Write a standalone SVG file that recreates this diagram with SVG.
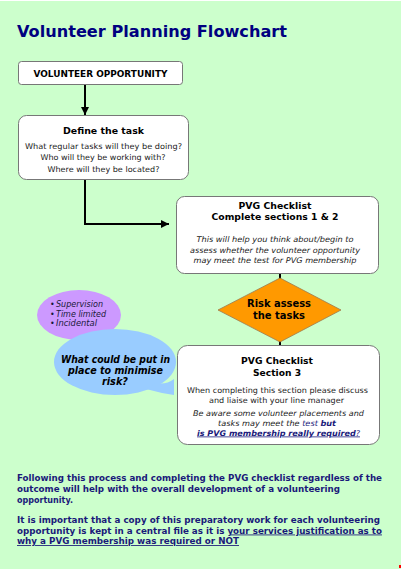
<svg xmlns="http://www.w3.org/2000/svg" width="403" height="570" viewBox="0 0 403 570">
<defs>
<style>
.t{font-family:"DejaVu Sans",Verdana,sans-serif;}
.box{fill:#ffffff;stroke:#777777;stroke-width:1;}
.b{font-weight:bold;}
.i{font-style:italic;}
.c{text-anchor:middle;}
.conn{fill:none;stroke:#000000;stroke-width:2;}
.navy{fill:#1a1a7a;}
</style>
<marker id="ah" viewBox="0 0 10 10" refX="10" refY="5" markerWidth="4" markerHeight="4" orient="auto" markerUnits="strokeWidth">
<path d="M0,0 L10,5 L0,10 Z" fill="#000000"/>
</marker>
</defs>
<rect x="0" y="0" width="403" height="570" fill="#ffffff"/>
<rect x="0" y="1" width="401" height="568" fill="#ccffcc"/>
<rect x="399" y="565" width="2" height="3" fill="#ff0000"/>

<text class="t b" x="17" y="37" font-size="16.5" fill="#000080" textLength="270" lengthAdjust="spacingAndGlyphs">Volunteer Planning Flowchart</text>

<g id="connectors">
<path class="conn" d="M85 84 V115" marker-end="url(#ah)"/>
<path class="conn" d="M85 179 V224 H169" marker-end="url(#ah)"/>
<path class="conn" d="M280 273 V279"/>
<path class="conn" d="M280 341 V346"/>
</g>

<g id="n-opportunity">
<rect class="box" x="18.5" y="61.5" width="164" height="23" rx="3"/>
<text class="t b c" x="100.5" y="76.5" font-size="8.5" fill="#000000" textLength="134" lengthAdjust="spacingAndGlyphs">VOLUNTEER OPPORTUNITY</text>
</g>

<g id="n-define">
<rect class="box" x="18.5" y="115.5" width="170" height="64" rx="8"/>
<text class="t b c" x="103.5" y="134" font-size="9.5" fill="#000000" textLength="81" lengthAdjust="spacingAndGlyphs">Define the task</text>
<text class="t c" x="103.5" y="148.5" font-size="7.8" fill="#222222" textLength="157" lengthAdjust="spacingAndGlyphs">What regular tasks will they be doing?</text>
<text class="t c" x="103" y="160" font-size="7.8" fill="#222222" textLength="125" lengthAdjust="spacingAndGlyphs">Who will they be working with?</text>
<text class="t c" x="103.5" y="171.5" font-size="7.8" fill="#222222" textLength="112" lengthAdjust="spacingAndGlyphs">Where will they be located?</text>
</g>

<g id="n-pvg12">
<rect class="box" x="176.5" y="196.5" width="202" height="77" rx="8"/>
<text class="t b c" x="275" y="208.5" font-size="9.5" fill="#000000" textLength="73" lengthAdjust="spacingAndGlyphs">PVG Checklist</text>
<text class="t b c" x="275" y="220" font-size="9.5" fill="#000000" textLength="127" lengthAdjust="spacingAndGlyphs">Complete sections 1 &amp; 2</text>
<text class="t i c" x="275" y="242" font-size="7.8" fill="#222222" textLength="157" lengthAdjust="spacingAndGlyphs">This will help you think about/begin to</text>
<text class="t i c" x="275" y="252.5" font-size="7.8" fill="#222222" textLength="170" lengthAdjust="spacingAndGlyphs">assess whether the volunteer opportunity</text>
<text class="t i c" x="275" y="263" font-size="7.8" fill="#222222" textLength="163" lengthAdjust="spacingAndGlyphs">may meet the test for PVG membership</text>
</g>

<g id="n-risk">
<polygon points="280,278 341,310 280,342 218,310" fill="#ff9900" stroke="#9a7a50" stroke-width="0.8"/>
<text class="t b c" x="279" y="307" font-size="10" fill="#000000" textLength="64" lengthAdjust="spacingAndGlyphs">Risk assess</text>
<text class="t b c" x="279" y="318.5" font-size="10" fill="#000000" textLength="52" lengthAdjust="spacingAndGlyphs">the tasks</text>
</g>

<g id="n-factors">
<ellipse cx="79" cy="315" rx="42" ry="25" fill="#cc99ff"/>
<text class="t" x="50" y="307" font-size="8" fill="#1a1a3a"><tspan>•</tspan><tspan x="56" class="i" textLength="47" lengthAdjust="spacingAndGlyphs">Supervision</tspan></text>
<text class="t" x="50" y="316.5" font-size="8" fill="#1a1a3a"><tspan>•</tspan><tspan x="56" class="i" textLength="50" lengthAdjust="spacingAndGlyphs">Time limited</tspan></text>
<text class="t" x="50" y="326" font-size="8" fill="#1a1a3a"><tspan>•</tspan><tspan x="56" class="i" textLength="41" lengthAdjust="spacingAndGlyphs">Incidental</tspan></text>
</g>

<g id="n-minimise">
<ellipse cx="115" cy="362" rx="61" ry="33" fill="#99ccff"/>
<path d="M146 389 Q160 393 174 395 L174 379 Q166 385 156 383 Z" fill="#99ccff"/>
<text class="t b i c" x="115.5" y="363" font-size="10" fill="#000000" textLength="109" lengthAdjust="spacingAndGlyphs">What could be put in</text>
<text class="t b i c" x="115.5" y="374" font-size="10" fill="#000000" textLength="95" lengthAdjust="spacingAndGlyphs">place to minimise</text>
<text class="t b i c" x="115" y="385" font-size="10" fill="#000000" textLength="26" lengthAdjust="spacingAndGlyphs">risk?</text>
</g>

<g id="n-pvg3">
<rect class="box" x="177.5" y="345.5" width="202" height="99" rx="10"/>
<text class="t b c" x="277" y="364" font-size="9.5" fill="#000000" textLength="72" lengthAdjust="spacingAndGlyphs">PVG Checklist</text>
<text class="t b c" x="277" y="376" font-size="9.5" fill="#000000" textLength="48" lengthAdjust="spacingAndGlyphs">Section 3</text>
<text class="t c" x="277.5" y="392.5" font-size="7.8" fill="#222222" textLength="181" lengthAdjust="spacingAndGlyphs">When completing this section please discuss</text>
<text class="t c" x="276.5" y="402.5" font-size="7.8" fill="#222222" textLength="135" lengthAdjust="spacingAndGlyphs">and liaise with your line manager</text>
<text class="t i c" x="278.5" y="415.5" font-size="7.8" fill="#222222" textLength="171" lengthAdjust="spacingAndGlyphs">Be aware some volunteer placements and</text>
<text class="t i c" x="277" y="425.5" font-size="7.8" fill="#222222" textLength="118" lengthAdjust="spacingAndGlyphs">tasks may meet the <tspan class="navy">test </tspan><tspan class="navy b">but</tspan></text>
<text class="t i c" x="278.5" y="435.5" font-size="7.8" fill="#1a1a7a" text-decoration="underline" textLength="163" lengthAdjust="spacingAndGlyphs"><tspan class="b">is PVG membership really required</tspan>?</text>
</g>

<g id="footer">
<text class="t b navy" x="17" y="481" font-size="8.5" textLength="365" lengthAdjust="spacingAndGlyphs">Following this process and completing the PVG checklist regardless of the</text>
<text class="t b navy" x="17" y="492" font-size="8.5" textLength="323" lengthAdjust="spacingAndGlyphs">outcome will help with the overall development of a volunteering</text>
<text class="t b navy" x="17" y="503" font-size="8.5" textLength="56" lengthAdjust="spacingAndGlyphs">opportunity.</text>
<text class="t b navy" x="17" y="523" font-size="8.5" textLength="363" lengthAdjust="spacingAndGlyphs">It is important that a copy of this preparatory work for each volunteering</text>
<text class="t b navy" x="17" y="533.5" font-size="8.5" textLength="365" lengthAdjust="spacingAndGlyphs">opportunity is kept in a central file as it is <tspan text-decoration="underline">your services justification as to</tspan></text>
<text class="t b navy" x="17" y="544" font-size="8.5" text-decoration="underline" textLength="222" lengthAdjust="spacingAndGlyphs">why a PVG membership was required or NOT</text>
</g>
</svg>
